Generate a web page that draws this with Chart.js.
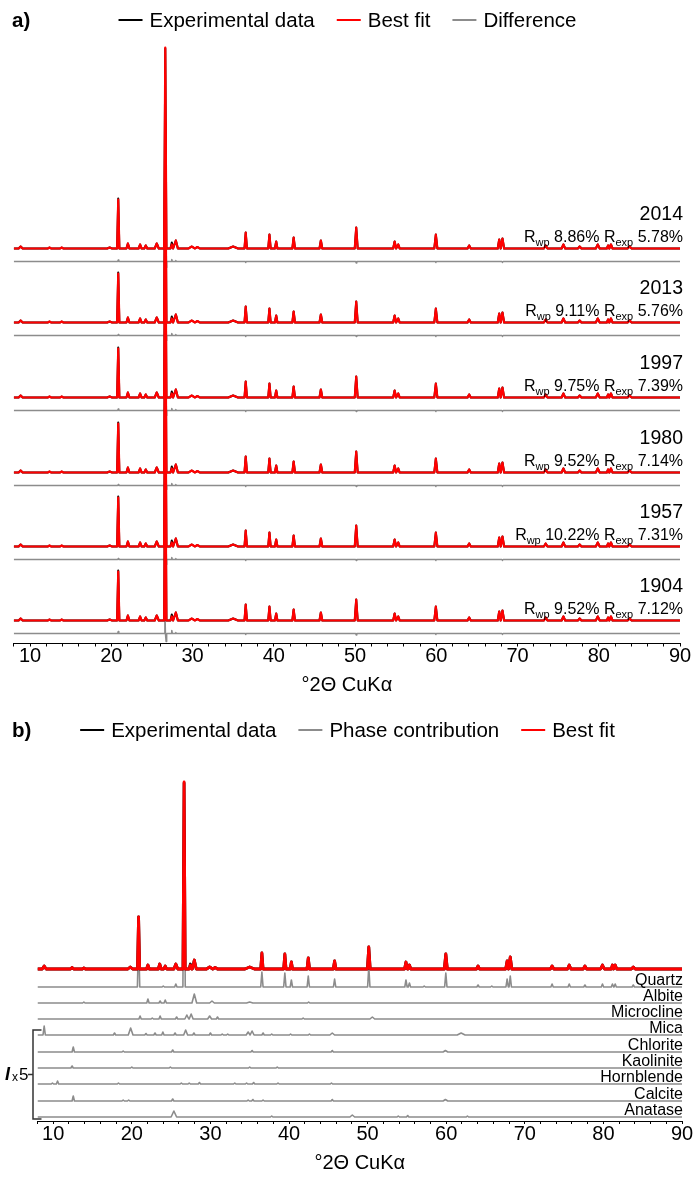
<!DOCTYPE html>
<html>
<head>
<meta charset="utf-8">
<script src="https://cdn.jsdelivr.net/npm/chart.js@4.4.0/dist/chart.umd.min.js"></script>
<style>
  body { margin: 0; background: #fff; }
  canvas { display: block; }
</style>
</head>
<body>
<canvas id="chartA" width="695" height="705"></canvas>
<canvas id="chartB" width="695" height="475"></canvas>
<script>
// x axis, °2θ CuKα
const xMin = 8;
const xMax = 90;
const xTickLabels = [10, 20, 30, 40, 50, 60, 70, 80, 90];
const xMinorTicks = [8, 10, 12, 14, 16, 18, 20, 22, 24, 26, 28, 30, 32, 34, 36, 38, 40, 42, 44, 46, 48,
    50, 52, 54, 56, 58, 60, 62, 64, 66, 68, 70, 72, 74, 76, 78, 80, 82, 84, 86, 88, 90];

// shared reflection list (position, half width in °2θ)
const peakPos = [8.85, 12.4, 13.9, 19.8, 20.86, 22.05, 23.55, 24.25, 25.6, 26.65, 27.45, 27.95, 29.9, 30.6,
    35.0, 36.55, 39.47, 40.3, 42.45, 45.8, 50.15, 54.88, 55.32, 59.95, 64.05, 67.75, 68.15, 73.47, 75.65,
    77.65, 79.88, 81.15, 81.5, 83.8];
const peakWidth = [0.25, 0.2, 0.2, 0.3, 0.14, 0.18, 0.18, 0.18, 0.25, 0.14, 0.16, 0.25, 0.4, 0.3,
    0.6, 0.15, 0.15, 0.15, 0.16, 0.17, 0.18, 0.18, 0.18, 0.19, 0.2, 0.18, 0.2, 0.22, 0.22,
    0.22, 0.24, 0.15, 0.2, 0.25];

// panel a: six samples
const years = ['2014', '2013', '1997', '1980', '1957', '1904'];
const rwp = [8.86, 9.11, 9.75, 9.52, 10.22, 9.52];
const rexp = [5.78, 5.76, 7.39, 7.14, 7.31, 7.12];
const yearOffsets = [395, 321, 246, 171, 97, 23];
const diffShift = 13;
const fitHeightsA = [2, 1, 1, 1, 49, 5, 4, 3, 5, 201, 4, 8, 2, 1.5,
    2, 16, 14, 7, 11, 8, 21, 7, 4, 14, 3, 9, 10, 3, 4,
    2, 4, 3, 4, 2];
const expHeightsA = [2, 1, 1, 1, 50, 5, 4, 3, 5, 200, 6, 8, 2, 1.5,
    2, 16, 14, 7, 11, 8, 21, 7, 4, 14, 3, 9, 10, 3, 4,
    2, 4, 3, 4, 2];
const diffPosA = [20.86, 26.6, 26.75, 27.45, 27.95, 36.55, 50.15, 59.95, 68.15];
const diffAmpA = [
    [1.5, 20, -6, 2, 1, -1, -1.5, -1, -1],
    [1, 18, -5, 2, 1, -1, -1, -1, -1],
    [1.5, 20, -5, 2, 1, -1, -1, -1, -1],
    [1, 18, -4, 2, 1, -1, -1, -1, -1],
    [1, 18, -5, 2, 1, -1, -1, -1, -1],
    [2, 25, -8, 3, 1, -1, -1.5, -1, -1]
];

// panel b: one sample and its phases
const fitOffsetB = 152;
const fitHeightsB = [3, 1.5, 1, 2, 52, 4, 5, 3, 5, 187, 4, 9, 2, 1.5,
    2, 16, 15, 7, 11, 8, 22, 7, 4, 15, 3, 8, 12, 3, 4,
    3, 4, 4, 4, 2];
const expHeightsB = [3, 1.5, 1, 2, 52, 4, 5, 3, 5, 186, 5, 9, 2, 1.5,
    2, 16, 15, 7, 11, 8, 22, 7, 4, 15, 3, 8, 12, 3, 4,
    3, 4, 4, 4, 2];
const phases = ['Quartz', 'Albite', 'Microcline', 'Mica', 'Chlorite', 'Kaolinite', 'Hornblende', 'Calcite', 'Anatase'];
const phaseOffsets = [134, 118, 102, 86, 69, 53, 37, 20, 4];
const phasePeaks = [
    [[20.86, 50], [24.0, 1], [25.6, 3], [26.65, 185], [36.55, 15], [39.47, 14], [40.3, 7], [42.45, 11], [45.8, 8],
     [50.15, 20], [54.88, 7], [55.32, 4], [57.2, 1], [59.95, 14], [64.05, 2], [65.8, 1], [67.75, 8], [68.15, 11],
     [73.47, 3], [75.65, 3], [77.65, 2], [79.88, 3], [81.15, 3], [81.5, 3], [83.8, 2]],
    [[13.9, 1], [22.05, 4], [23.6, 2], [24.25, 3], [27.95, 9, 0.3], [30.2, 2, 0.3], [35.0, 1, 0.4], [42.5, 1]],
    [[21.05, 3], [22.6, 1], [23.6, 3], [25.7, 2], [27.0, 4, 0.25], [27.55, 5, 0.25], [29.9, 3, 0.25], [30.9, 2],
     [41.8, 1], [50.6, 2, 0.3]],
    [[8.85, 9], [17.8, 2], [19.85, 7, 0.3], [21.8, 1.5], [22.95, 2], [23.95, 3], [25.5, 2], [26.85, 5, 0.25],
     [27.9, 2], [30.0, 2], [31.5, 1], [32.2, 1], [34.8, 3, 0.25], [35.3, 4, 0.25], [36.7, 2], [37.8, 1],
     [40.2, 1], [42.6, 1], [45.5, 2, 0.3], [61.9, 2, 0.5]],
    [[12.55, 5], [18.9, 1], [25.2, 2], [35.3, 1.5], [45.5, 1.5], [59.9, 1.5, 0.3]],
    [[12.4, 2], [20.0, 1], [24.9, 1], [35.0, 1], [38.5, 1]],
    [[9.9, 1], [10.55, 3], [18.3, 1], [26.3, 1], [27.3, 1], [28.6, 1.5], [33.1, 1], [34.6, 1], [35.5, 1.5],
     [38.6, 1], [45.4, 1]],
    [[12.55, 5], [18.9, 1], [19.6, 1], [25.2, 2], [34.8, 1], [35.4, 1.5], [36.7, 1], [45.5, 1.5], [59.9, 1.5, 0.3]],
    [[25.35, 6, 0.35], [37.8, 1], [48.05, 2, 0.3], [53.9, 1], [55.1, 1.5], [62.7, 1]]
];

const RED = '#ff0000';
const BLACK = '#000000';
const GREY = '#8c8c8c';
const FONT = '"Liberation Sans", Arial, sans-serif';
Chart.defaults.font.family = FONT;

// one trace: flat baseline with a spike for every reflection
function trace(peaks, base, hw) {
    const pts = [{ x: xMin, y: base }];
    peaks.forEach(([p, h, w]) => {
        if (!h) return;
        const half = w || hw;
        pts.push({ x: p - half, y: base }, { x: p, y: base + h }, { x: p + half, y: base });
    });
    pts.push({ x: xMax, y: base });
    return pts;
}

function zipPeaks(pos, heights, widths) {
    return pos.map((p, i) => [p, heights[i], widths ? widths[i] : 0]);
}

const panelLegend = {
    id: 'panelLegend',
    afterDraw(chart, args, opts) {
        const ctx = chart.ctx;
        ctx.save();
        ctx.fillStyle = '#000';
        ctx.textBaseline = 'alphabetic';
        ctx.textAlign = 'left';
        ctx.font = 'bold 20.5px ' + FONT;
        ctx.fillText(opts.label, 12, opts.baseline);
        ctx.font = '20.5px ' + FONT;
        const widths = opts.items.map(it => ctx.measureText(it.text).width);
        const total = widths.reduce((a, b) => a + b, 0) + opts.items.length * 31 + (opts.items.length - 1) * 22;
        let x = (chart.width - total) / 2;
        opts.items.forEach((it, i) => {
            ctx.strokeStyle = it.color;
            ctx.lineWidth = 2;
            ctx.beginPath();
            ctx.moveTo(x, opts.lineY);
            ctx.lineTo(x + 24, opts.lineY);
            ctx.stroke();
            x += 31;
            ctx.fillText(it.text, x, opts.baseline);
            x += widths[i] + 22;
        });
        ctx.restore();
    }
};

const yearLabels = {
    id: 'yearLabels',
    afterDatasetsDraw(chart) {
        const { ctx, chartArea, scales } = chart;
        const right = chartArea.right + 3;
        ctx.save();
        ctx.fillStyle = '#000';
        ctx.textBaseline = 'alphabetic';
        years.forEach((yr, i) => {
            const y0 = scales.y.getPixelForValue(yearOffsets[i]);
            ctx.textAlign = 'right';
            ctx.font = '19.5px ' + FONT;
            ctx.fillText(yr, right, y0 - 29);
            const parts = [
                ['R', 16, 0], ['wp', 11, 4], [' ' + rwp[i].toFixed(2) + '% ', 16, 0],
                ['R', 16, 0], ['exp', 11, 4], [' ' + rexp[i].toFixed(2) + '%', 16, 0]
            ];
            ctx.textAlign = 'left';
            let w = 0;
            parts.forEach(p => { ctx.font = p[1] + 'px ' + FONT; w += ctx.measureText(p[0]).width; });
            let x = right - w;
            parts.forEach(p => {
                ctx.font = p[1] + 'px ' + FONT;
                ctx.fillText(p[0], x, y0 - 7 + p[2]);
                x += ctx.measureText(p[0]).width;
            });
        });
        ctx.restore();
    }
};

const phaseLabels = {
    id: 'phaseLabels',
    afterDatasetsDraw(chart) {
        const { ctx, chartArea, scales } = chart;
        ctx.save();
        ctx.fillStyle = '#000';
        ctx.textAlign = 'right';
        ctx.textBaseline = 'alphabetic';
        ctx.font = '16px ' + FONT;
        phases.forEach((name, i) => {
            ctx.fillText(name, chartArea.right + 1, scales.y.getPixelForValue(phaseOffsets[i]) - 2);
        });
        // x5 bracket around the minor phases
        const top = scales.y.getPixelForValue(phaseOffsets[3] + 5);
        const bottom = scales.y.getPixelForValue(2);
        const mid = (top + bottom) / 2;
        const bx = chartArea.left - 4.5;
        ctx.strokeStyle = '#333';
        ctx.lineWidth = 1.5;
        ctx.beginPath();
        ctx.moveTo(chartArea.left + 4, top);
        ctx.lineTo(bx, top);
        ctx.lineTo(bx, bottom);
        ctx.lineTo(chartArea.left + 4, bottom);
        ctx.moveTo(bx, mid);
        ctx.lineTo(bx - 5, mid);
        ctx.stroke();
        ctx.textAlign = 'left';
        ctx.textBaseline = 'middle';
        ctx.font = 'bold italic 18px ' + FONT;
        ctx.fillText('I', 5, mid + 1);
        ctx.font = '12px ' + FONT;
        ctx.fillText('x', 12, mid + 3);
        ctx.font = '17px ' + FONT;
        ctx.fillText('5', 19, mid + 1);
        ctx.restore();
    }
};

function xScale(title) {
    return {
        type: 'linear',
        min: xMin,
        max: xMax,
        afterBuildTicks: s => { s.ticks = xMinorTicks.map(v => ({ value: v })); },
        ticks: {
            autoSkip: false,
            maxRotation: 0,
            padding: 0,
            color: '#000',
            font: { size: 20, lineHeight: 1 },
            callback: v => xTickLabels.includes(v) ? String(v) : ''
        },
        grid: { drawOnChartArea: false, drawTicks: true, tickLength: 3, color: '#000' },
        border: { display: true, color: '#000', width: 1 },
        title: { display: true, text: '°2Θ CuKα', color: '#000', font: { size: 20 }, padding: title }
    };
}

// ---- panel a ----
const datasetsA = [];
years.forEach((yr, i) => {
    datasetsA.push({
        label: yr + ' best fit',
        data: trace(zipPeaks(peakPos, fitHeightsA, peakWidth), yearOffsets[i], 0.15),
        borderColor: RED, borderWidth: 2.2, order: 0
    });
    datasetsA.push({
        label: yr + ' experimental',
        data: trace(zipPeaks(peakPos, expHeightsA, peakWidth), yearOffsets[i], 0.15),
        borderColor: BLACK, borderWidth: 2, order: 1
    });
    datasetsA.push({
        label: yr + ' difference',
        data: trace(zipPeaks(diffPosA, diffAmpA[i]), yearOffsets[i] - diffShift, 0.07),
        borderColor: GREY, borderWidth: 1.5, order: 2
    });
});

new Chart(document.getElementById('chartA'), {
    type: 'line',
    data: { datasets: datasetsA },
    plugins: [panelLegend, yearLabels],
    options: {
        responsive: false,
        animation: false,
        events: [],
        elements: { point: { radius: 0 }, line: { tension: 0, borderJoinStyle: 'round' } },
        layout: { padding: { top: 40, left: 13.75, right: 15, bottom: 1 } },
        plugins: {
            legend: { display: false },
            tooltip: { enabled: false },
            panelLegend: {
                label: 'a)', baseline: 27, lineY: 20,
                items: [
                    { text: 'Experimental data', color: BLACK },
                    { text: 'Best fit', color: RED },
                    { text: 'Difference', color: GREY }
                ]
            }
        },
        scales: {
            x: xScale({ top: 6.5, bottom: 7 }),
            y: { display: false, min: 0, max: 603.5 }
        }
    }
});

// ---- panel b ----
const datasetsB = [
    {
        label: 'Best fit',
        data: trace(zipPeaks(peakPos, fitHeightsB, peakWidth), fitOffsetB, 0.15),
        borderColor: RED, borderWidth: 2.8, order: 0
    },
    {
        label: 'Experimental data',
        data: trace(zipPeaks(peakPos, expHeightsB, peakWidth), fitOffsetB, 0.15),
        borderColor: BLACK, borderWidth: 2.8, order: 1
    }
];
phases.forEach((name, i) => {
    datasetsB.push({
        label: name,
        data: trace(phasePeaks[i], phaseOffsets[i], 0.15),
        borderColor: GREY, borderWidth: 1.6, order: 2
    });
});

new Chart(document.getElementById('chartB'), {
    type: 'line',
    data: { datasets: datasetsB },
    plugins: [panelLegend, phaseLabels],
    options: {
        responsive: false,
        animation: false,
        events: [],
        elements: { point: { radius: 0 }, line: { tension: 0, borderJoinStyle: 'round' } },
        layout: { padding: { top: 60, left: 37.5, right: 13, bottom: 1 } },
        plugins: {
            legend: { display: false },
            tooltip: { enabled: false },
            panelLegend: {
                label: 'b)', baseline: 32, lineY: 25,
                items: [
                    { text: 'Experimental data', color: BLACK },
                    { text: 'Phase contribution', color: GREY },
                    { text: 'Best fit', color: RED }
                ]
            }
        },
        scales: {
            x: xScale({ top: 7, bottom: 4 }),
            y: { display: false, min: 0, max: 356 }
        }
    }
});
</script>
</body>
</html>
